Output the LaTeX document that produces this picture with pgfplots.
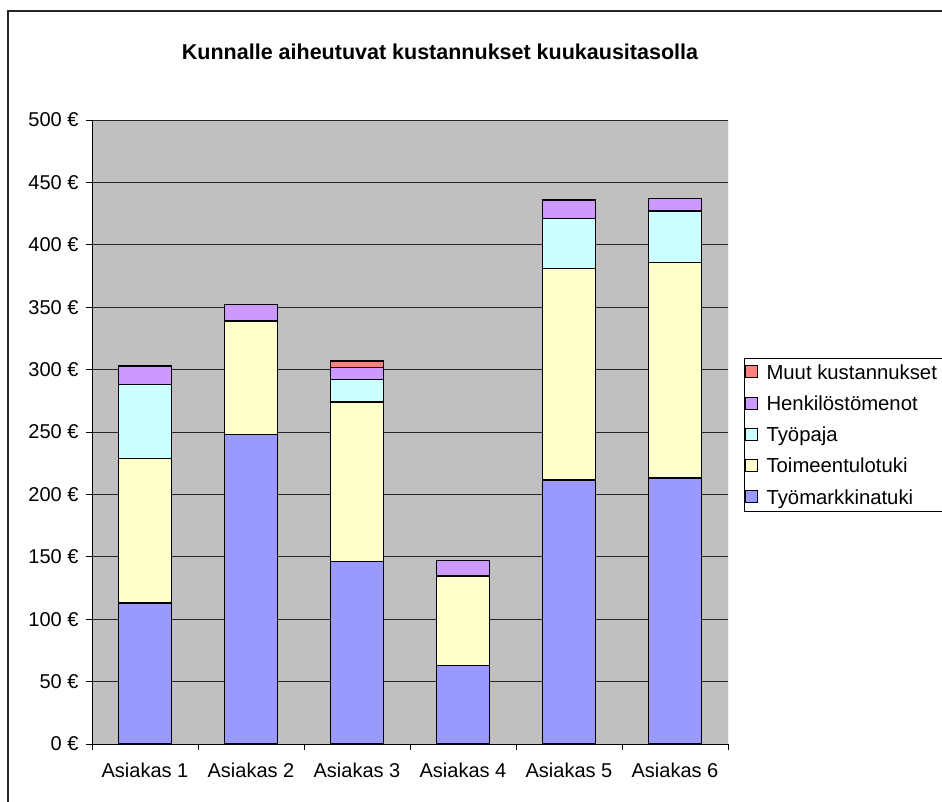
\documentclass[border=0pt]{standalone}
\usepackage{fontspec}
\setmainfont{Liberation Sans}
\usepackage{pgfplots}
\pgfplotsset{compat=1.18}
\definecolor{cBlue}{HTML}{9999FF}
\definecolor{cYellow}{HTML}{FFFFCC}
\definecolor{cCyan}{HTML}{CCFFFF}
\definecolor{cPurple}{HTML}{CC99FF}
\definecolor{cRed}{HTML}{FF8080}
\definecolor{plotgray}{HTML}{C0C0C0}
\begin{document}
\begin{tikzpicture}[x=1pt,y=1pt]
\useasboundingbox (0,0) rectangle (942,801);
\draw[line width=1.5pt, black!85] (8,-5) -- (8,790) -- (950,790);
\node[font=\fontsize{21.5}{26}\selectfont\bfseries] at (440,749) {Kunnalle aiheutuvat kustannukset kuukausitasolla};
\begin{axis}[
  at={(92pt,57pt)}, anchor=south west,
  scale only axis, width=636pt, height=624pt,
  xmin=0.5, xmax=6.5, ymin=0, ymax=500,
  enlargelimits=false,
  ybar stacked, bar width=53pt,
  axis background/.style={fill=plotgray},
  axis x line*=bottom, axis y line*=left,
  axis line style={black, line width=0.8pt},
  xtick={1,...,6},
  xticklabels={Asiakas 1,Asiakas 2,Asiakas 3,Asiakas 4,Asiakas 5,Asiakas 6},
  minor xtick={0.5,1.5,...,6.5},
  ytick={0,50,...,500},
  yticklabels={0 €,50 €,100 €,150 €,200 €,250 €,300 €,350 €,400 €,450 €,500 €},
  ymajorgrids,
  major grid style={black!85, line width=0.8pt},
  tick align=outside,
  major tick length=6pt, minor tick length=6pt,
  major x tick style={draw=none},
  tick style={black, line width=0.8pt},
  ticklabel style={font=\fontsize{20}{24}\selectfont},
  xticklabel style={yshift=-9pt},
  yticklabel style={xshift=-4pt},
  legend style={at={(1.0252,0.495)}, anchor=west, draw=black, line width=0.8pt,
    fill=white, font=\fontsize{20.3}{24}\selectfont, row sep=11pt,
    cells={anchor=west}, inner xsep=1pt, inner ysep=4pt},
  reverse legend,
  legend image code/.code={\draw[#1, draw=black, line width=0.8pt] (5pt,-5pt) rectangle (17pt,7pt);
    \path (23pt,0pt);},
]
\addplot[fill=cBlue, draw=black, line width=1.4pt] coordinates {(1,113) (2,248) (3,146) (4,63) (5,211.5) (6,213)};
\addplot[fill=cYellow, draw=black, line width=1.4pt] coordinates {(1,116) (2,91) (3,128) (4,71.5) (5,169.5) (6,173)};
\addplot[fill=cCyan, draw=black, line width=1.4pt] coordinates {(1,59) (2,0) (3,18) (4,0) (5,40) (6,41)};
\addplot[fill=cPurple, draw=black, line width=1.4pt] coordinates {(1,15) (2,13) (3,9.5) (4,12.5) (5,15) (6,10)};
\addplot[fill=cRed, draw=black, line width=1.4pt] coordinates {(1,0) (2,0) (3,5.5) (4,0) (5,0) (6,0)};
\legend{Työmarkkinatuki,Toimeentulotuki,Työpaja,Henkilöstömenot,Muut kustannukset\hspace*{10pt}}
\draw[gray!80, line width=0.8pt] (rel axis cs:1,0) -- (rel axis cs:1,1);
\end{axis}
\end{tikzpicture}
\end{document}
